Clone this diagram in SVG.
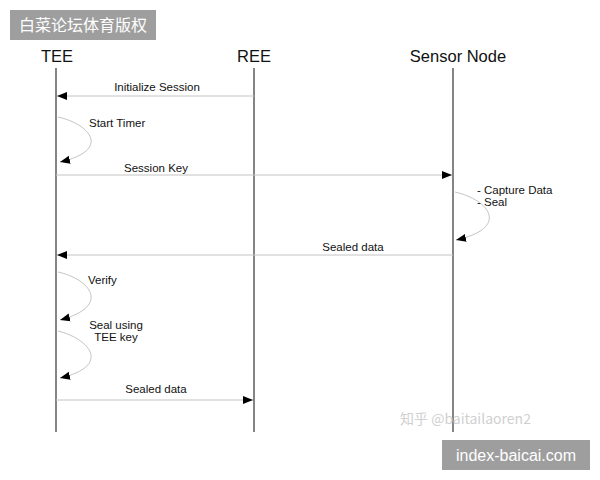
<svg xmlns="http://www.w3.org/2000/svg" width="600" height="480" viewBox="0 0 600 480">
<style>
.hdr{font-family:"Liberation Sans",Arial,sans-serif;font-size:16.5px;fill:#111}
.lbl{font-family:"Liberation Sans",Arial,sans-serif;font-size:11.5px;fill:#111}
.life{stroke:#333;stroke-width:1.2;fill:none}
.msg{stroke:#c4c4c4;stroke-width:1;fill:none}
.wm{font-family:"Noto Sans CJK SC","Liberation Sans",sans-serif;fill:#fff}
</style>
<defs>
<marker id="ah" viewBox="0 0 10 10" refX="10" refY="5" markerWidth="10" markerHeight="10" markerUnits="userSpaceOnUse" orient="auto">
<path d="M0,1 L10,5 L0,9 z" fill="#000"/>
</marker>
</defs>
<rect width="600" height="480" fill="#fff"/>
<g id="tee"><text class="hdr" x="57" y="62" text-anchor="middle">TEE</text><line class="life" x1="56" y1="68" x2="56" y2="432"/></g>
<g id="ree"><text class="hdr" x="254" y="62" text-anchor="middle">REE</text><line class="life" x1="254" y1="68" x2="254" y2="432"/></g>
<g id="sensor"><text class="hdr" x="458" y="62" text-anchor="middle">Sensor Node</text><line class="life" x1="453" y1="68" x2="453" y2="432"/></g>
<g id="connectors">
<line class="msg" x1="254" y1="96" x2="57" y2="96" marker-end="url(#ah)"/>
<text class="lbl" x="157" y="91" text-anchor="middle">Initialize Session</text>
<path class="msg" d="M58,117 C90,124 112,150 60,162" marker-end="url(#ah)"/>
<text class="lbl" x="89" y="127">Start Timer</text>
<line class="msg" x1="56" y1="175" x2="452" y2="175" marker-end="url(#ah)"/>
<text class="lbl" x="156" y="172" text-anchor="middle">Session Key</text>
<path class="msg" d="M455,192 C490,200 510,228 456,240" marker-end="url(#ah)"/>
<text class="lbl" x="477" y="194">- Capture Data</text>
<text class="lbl" x="477" y="206">- Seal</text>
<line class="msg" x1="453" y1="255" x2="57" y2="255" marker-end="url(#ah)"/>
<text class="lbl" x="353" y="251" text-anchor="middle">Sealed data</text>
<path class="msg" d="M58,272 C90,279 112,306 60,320" marker-end="url(#ah)"/>
<text class="lbl" x="88" y="284">Verify</text>
<path class="msg" d="M58,331 C90,339 112,366 60,378" marker-end="url(#ah)"/>
<text class="lbl" x="116" y="329" text-anchor="middle">Seal using</text>
<text class="lbl" x="116" y="341" text-anchor="middle">TEE key</text>
<line class="msg" x1="56" y1="400" x2="253" y2="400" marker-end="url(#ah)"/>
<text class="lbl" x="156" y="393" text-anchor="middle">Sealed data</text>
</g>
<rect x="10" y="10" width="146" height="30" fill="#9e9e9e"/>
<text class="wm" x="83" y="31" font-size="16" text-anchor="middle">白菜论坛体育版权</text>
<text x="400" y="424" font-family="'Noto Sans CJK SC','Liberation Sans',sans-serif" font-size="14" fill="#d0d0d0">知乎 @baitailaoren2</text>
<rect x="442" y="440" width="148" height="30" fill="#9e9e9e"/>
<text x="516" y="461" font-family="'Liberation Sans',Arial,sans-serif" font-size="16" fill="#fff" text-anchor="middle">index-baicai.com</text>
</svg>
